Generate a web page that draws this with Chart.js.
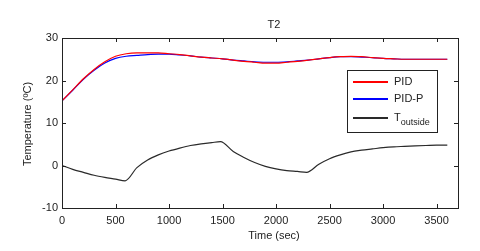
<!DOCTYPE html>
<html>
<head>
<meta charset="utf-8">
<script src="https://cdn.jsdelivr.net/npm/chart.js@4/dist/chart.umd.min.js"></script>
<style>
  html, body { margin: 0; padding: 0; background: #fff; }
  #wrap { width: 480px; height: 251px; }
</style>
</head>
<body>
<div id="wrap"><canvas id="c"></canvas></div>
<script>
// time axis for the two controllers (sec)
const tCtrl = [0, 100, 200, 300, 400, 500, 600, 700, 800, 900, 1000, 1100, 1200, 1300, 1400, 1500,
  1600, 1700, 1800, 1900, 2000, 2100, 2200, 2300, 2400, 2500, 2600, 2700, 2800, 2900, 3000,
  3100, 3200, 3300, 3400, 3500, 3600];
const pid = [15.2, 17.8, 20.4, 22.6, 24.4, 25.7, 26.3, 26.5, 26.5, 26.5, 26.3, 26.1, 25.8, 25.5, 25.3, 25.1,
  24.8, 24.5, 24.3, 24.1, 24.1, 24.3, 24.5, 24.8, 25.1, 25.4, 25.6, 25.7, 25.6, 25.4, 25.2,
  25.1, 25.0, 25.0, 25.0, 25.0, 25.0];
const pidP = [15.2, 17.7, 20.3, 22.4, 24.1, 25.2, 25.7, 25.9, 26.1, 26.2, 26.2, 26.0, 25.8, 25.5, 25.3, 25.1,
  24.8, 24.6, 24.4, 24.3, 24.3, 24.4, 24.6, 24.8, 25.1, 25.4, 25.6, 25.6, 25.5, 25.4, 25.2,
  25.1, 25.0, 25.0, 25.0, 25.0, 25.0];

// outside temperature, own time points (corners at ~590, 1480, 2285)
const tOut = [0, 100, 200, 300, 400, 500, 590, 700, 800, 900, 1000, 1100, 1200, 1300, 1400, 1480,
  1600, 1700, 1800, 1900, 2000, 2100, 2200, 2285, 2400, 2500, 2600, 2700, 2800, 2900, 3000,
  3100, 3200, 3300, 3400, 3500, 3600];
const tOutside = [0.0, -0.9, -1.6, -2.3, -2.8, -3.2, -3.6, -0.5, 1.3, 2.5, 3.4, 4.1, 4.7, 5.1, 5.4, 5.6,
  3.3, 1.9, 0.7, -0.2, -0.8, -1.2, -1.4, -1.6, 0.3, 1.6, 2.5, 3.2, 3.6, 3.9, 4.2,
  4.4, 4.5, 4.6, 4.7, 4.8, 4.8];

const xTicks = [0, 500, 1000, 1500, 2000, 2500, 3000, 3500];
const yTicks = [-10, 0, 10, 20, 30];
const seriesColors = ['#ff0000', '#0000ff', '#2a2a2a'];

const FONT = "'Liberation Sans', Arial, sans-serif";
const INK = '#222';

function pairs(xs, ys) {
  return xs.map((x, i) => ({ x: x, y: ys[i] }));
}

// matlab look: box, inward ticks, title, axis labels, legend inside
const matlabFrame = {
  id: 'matlabFrame',
  afterDraw(chart) {
    const ctx = chart.ctx;
    const a = chart.chartArea;
    const sx = chart.scales.x, sy = chart.scales.y;
    ctx.save();
    ctx.strokeStyle = INK;
    ctx.lineWidth = 1;
    ctx.strokeRect(Math.round(a.left) + 0.5, Math.round(a.top) + 0.5,
      Math.round(a.right - a.left), Math.round(a.bottom - a.top));

    const len = 4;
    ctx.beginPath();
    xTicks.forEach(v => {
      const px = Math.round(sx.getPixelForValue(v)) + 0.5;
      ctx.moveTo(px, a.bottom); ctx.lineTo(px, a.bottom - len);
      ctx.moveTo(px, a.top); ctx.lineTo(px, a.top + len);
    });
    yTicks.forEach(v => {
      const py = Math.round(sy.getPixelForValue(v)) + 0.5;
      ctx.moveTo(a.left, py); ctx.lineTo(a.left + len, py);
      ctx.moveTo(a.right, py); ctx.lineTo(a.right - len, py);
    });
    ctx.stroke();

    ctx.fillStyle = INK;
    ctx.font = '11px ' + FONT;
    ctx.textAlign = 'center';
    ctx.textBaseline = 'middle';
    ctx.fillText('T2', 274, 25);
    ctx.fillText('Time (sec)', 274, 236);

    ctx.save();
    ctx.translate(28, 124);
    ctx.rotate(-Math.PI / 2);
    ctx.fillText('Temperature (ºC)', 0, 0);
    ctx.restore();

    // legend
    const lx = 347, ly = 70, lw = 90, lh = 62;
    ctx.fillStyle = '#fff';
    ctx.fillRect(lx, ly, lw, lh);
    ctx.strokeStyle = INK;
    ctx.strokeRect(lx + 0.5, ly + 0.5, lw, lh);
    const rows = [81, 98, 117];
    chart.data.datasets.forEach((ds, i) => {
      ctx.fillStyle = seriesColors[i];
      ctx.fillRect(353, rows[i], 35, 2);
      ctx.fillStyle = INK;
      ctx.textAlign = 'left';
      ctx.font = '11px ' + FONT;
      ctx.fillText(ds.label, 394, rows[i] + 1);
      if (ds.sub) {
        const w = ctx.measureText(ds.label).width;
        ctx.font = '9px ' + FONT;
        ctx.fillText(ds.sub, 394 + w, rows[i] + 6);
      }
    });
    ctx.restore();
  }
};

new Chart(document.getElementById('c'), {
  type: 'line',
  data: {
    datasets: [
      { label: 'PID', data: pairs(tCtrl, pid), borderColor: seriesColors[0] },
      { label: 'PID-P', data: pairs(tCtrl, pidP), borderColor: seriesColors[1] },
      { label: 'T', sub: 'outside', data: pairs(tOut, tOutside), borderColor: seriesColors[2] }
    ]
  },
  options: {
    responsive: true,
    maintainAspectRatio: false,
    animation: false,
    elements: {
      point: { radius: 0 },
      line: { borderWidth: 1.2, cubicInterpolationMode: 'monotone' }
    },
    layout: { padding: { top: 38, right: 22, left: 0, bottom: 0 } },
    plugins: {
      legend: { display: false },
      title: { display: false },
      tooltip: { enabled: false }
    },
    scales: {
      x: {
        type: 'linear',
        min: 0,
        max: 3700,
        grid: { display: false, drawTicks: false },
        border: { display: false },
        afterBuildTicks: s => { s.ticks = xTicks.map(v => ({ value: v })); },
        afterFit: s => { s.height = 43; },
        ticks: {
          color: INK, font: { family: FONT, size: 11 }, padding: 6, maxRotation: 0,
          callback: v => String(v)
        }
      },
      y: {
        min: -10,
        max: 30,
        grid: { display: false, drawTicks: false },
        border: { display: false },
        afterBuildTicks: s => { s.ticks = yTicks.map(v => ({ value: v })); },
        afterFit: s => { s.width = 62; },
        ticks: { color: INK, font: { family: FONT, size: 11 }, padding: 4 }
      }
    }
  },
  plugins: [matlabFrame]
});
</script>
</body>
</html>
